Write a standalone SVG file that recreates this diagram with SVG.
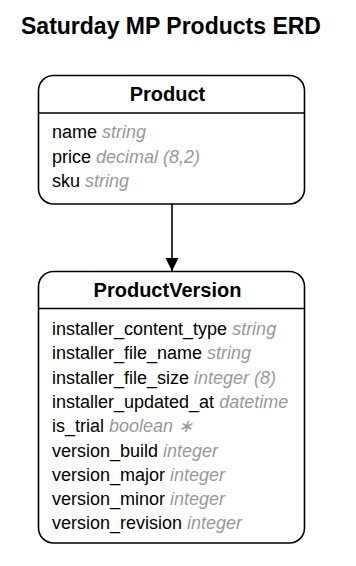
<svg xmlns="http://www.w3.org/2000/svg" width="356" height="566" viewBox="0 0 356 566">
<style>
.box{fill:#fff;stroke:#000;stroke-width:1.6}
.sep{stroke:#000;stroke-width:1.6}
.title{font-family:"Liberation Sans",Arial,sans-serif;font-weight:bold;font-size:23px;fill:#000}
.ename{font-family:"Liberation Sans",Arial,sans-serif;font-weight:bold;font-size:20px;fill:#000}
.attr{font-family:"Liberation Sans",Arial,sans-serif;font-size:18px;fill:#000}
.type{font-style:italic;fill:#999}
.edge{stroke:#000;stroke-width:1.6;fill:none}
</style>
<defs>
<marker id="arrow" markerWidth="14" markerHeight="18" refX="13" refY="6.5" orient="auto" markerUnits="userSpaceOnUse">
<path d="M0,0 L13,6.5 L0,13 Z" fill="#000"/>
</marker>
</defs>
<rect width="356" height="566" fill="#fff"/>
<text class="title" x="171" y="34" text-anchor="middle">Saturday MP Products ERD</text>
<g id="connectors">
<line class="edge" x1="172" y1="204" x2="172" y2="271" marker-end="url(#arrow)"/>
</g>
<g id="Product">
<rect class="box" x="38.5" y="75.5" width="266" height="128.5" rx="15"/>
<line class="sep" x1="38.5" y1="113" x2="304.5" y2="113"/>
<text class="ename" x="167.5" y="101" text-anchor="middle">Product</text>
<text class="attr" x="52" y="138">name <tspan class="type">string</tspan></text>
<text class="attr" x="52" y="162.5">price <tspan class="type">decimal (8,2)</tspan></text>
<text class="attr" x="52" y="187">sku <tspan class="type">string</tspan></text>
</g>
<g id="ProductVersion">
<rect class="box" x="38.5" y="271.5" width="266" height="271.5" rx="15"/>
<line class="sep" x1="38.5" y1="308.5" x2="304.5" y2="308.5"/>
<text class="ename" x="167.5" y="297" text-anchor="middle">ProductVersion</text>
<text class="attr" x="52" y="335">installer_content_type <tspan class="type">string</tspan></text>
<text class="attr" x="52" y="359.3">installer_file_name <tspan class="type">string</tspan></text>
<text class="attr" x="52" y="383.6">installer_file_size <tspan class="type">integer (8)</tspan></text>
<text class="attr" x="52" y="407.9">installer_updated_at <tspan class="type">datetime</tspan></text>
<text class="attr" x="52" y="432.2">is_trial <tspan class="type">boolean ∗</tspan></text>
<text class="attr" x="52" y="456.5">version_build <tspan class="type">integer</tspan></text>
<text class="attr" x="52" y="480.8">version_major <tspan class="type">integer</tspan></text>
<text class="attr" x="52" y="505.1">version_minor <tspan class="type">integer</tspan></text>
<text class="attr" x="52" y="529.4">version_revision <tspan class="type">integer</tspan></text>
</g>
</svg>
